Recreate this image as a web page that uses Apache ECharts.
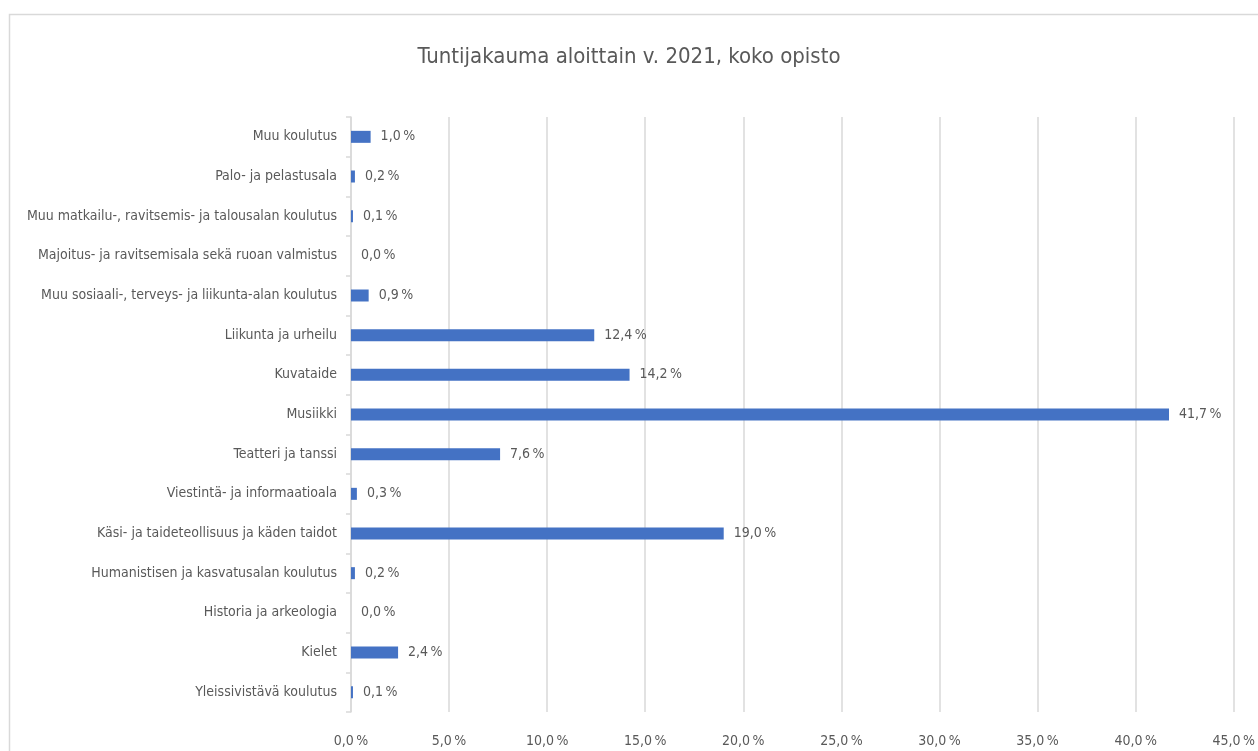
<!DOCTYPE html>
<html><head><meta charset="utf-8">
<script src="https://cdn.jsdelivr.net/npm/echarts@6/dist/echarts.min.js"></script>
<style>html,body{margin:0;padding:0;background:#fff;}#c{width:1258px;height:751px;}</style>
</head><body><div id="c"></div>
<script>
const titleText = 'Tuntijakauma aloittain v. 2021, koko opisto';
const categories = [
  'Muu koulutus',
  'Palo- ja pelastusala',
  'Muu matkailu-, ravitsemis- ja talousalan koulutus',
  'Majoitus- ja ravitsemisala sekä ruoan valmistus',
  'Muu sosiaali-, terveys- ja liikunta-alan koulutus',
  'Liikunta ja urheilu',
  'Kuvataide',
  'Musiikki',
  'Teatteri ja tanssi',
  'Viestintä- ja informaatioala',
  'Käsi- ja taideteollisuus ja käden taidot',
  'Humanistisen ja kasvatusalan koulutus',
  'Historia ja arkeologia',
  'Kielet',
  'Yleissivistävä koulutus'
];
const values = [1.0, 0.2, 0.1, 0.0, 0.9, 12.4, 14.2, 41.7, 7.6, 0.3, 19.0, 0.2, 0.0, 2.4, 0.1];
const xMin = 0, xMax = 45, xStep = 5;

const FONT = '"Liberation Sans Narrow", "DejaVu Sans Condensed", sans-serif';
const fmt = v => v.toFixed(1).replace('.', ',') + '\u2009%';

const chart = echarts.init(document.getElementById('c'));
chart.setOption({
  backgroundColor: '#fff',
  animation: false,
  graphic: [{
    type: 'rect', left: 7, top: 12, shape: {width: 1300, height: 800},
    style: {fill: 'none', stroke: '#d9d9d9', lineWidth: 1.5}, silent: true
  }],
  title: {
    text: titleText, left: 'center', top: 41,
    textStyle: {fontFamily: FONT, fontSize: 22, fontWeight: 'normal', color: '#595959'}
  },
  grid: {left: 351, right: 23, top: 117, bottom: 39, containLabel: false},
  xAxis: {
    type: 'value', min: xMin, max: xMax, interval: xStep,
    axisLine: {show: false}, axisTick: {show: false},
    splitLine: {show: true, lineStyle: {color: '#d9d9d9', width: 1.5}},
    axisLabel: {formatter: fmt, fontFamily: FONT, fontSize: 14, color: '#595959', margin: 22}
  },
  yAxis: {
    type: 'category', data: categories, inverse: true,
    axisLine: {show: true, lineStyle: {color: '#d9d9d9', width: 1.5}},
    axisTick: {show: true, length: 5, inside: false, lineStyle: {color: '#d9d9d9', width: 1.5}},
    axisLabel: {fontFamily: FONT, fontSize: 14, color: '#595959', margin: 14},
    splitLine: {show: false}
  },
  series: [{
    type: 'bar', data: values, barWidth: 12,
    itemStyle: {color: '#4472C4'},
    label: {show: true, position: 'right', distance: 10, formatter: p => fmt(p.value),
      fontFamily: FONT, fontSize: 14, color: '#595959'}
  }]
});
</script></body></html>
